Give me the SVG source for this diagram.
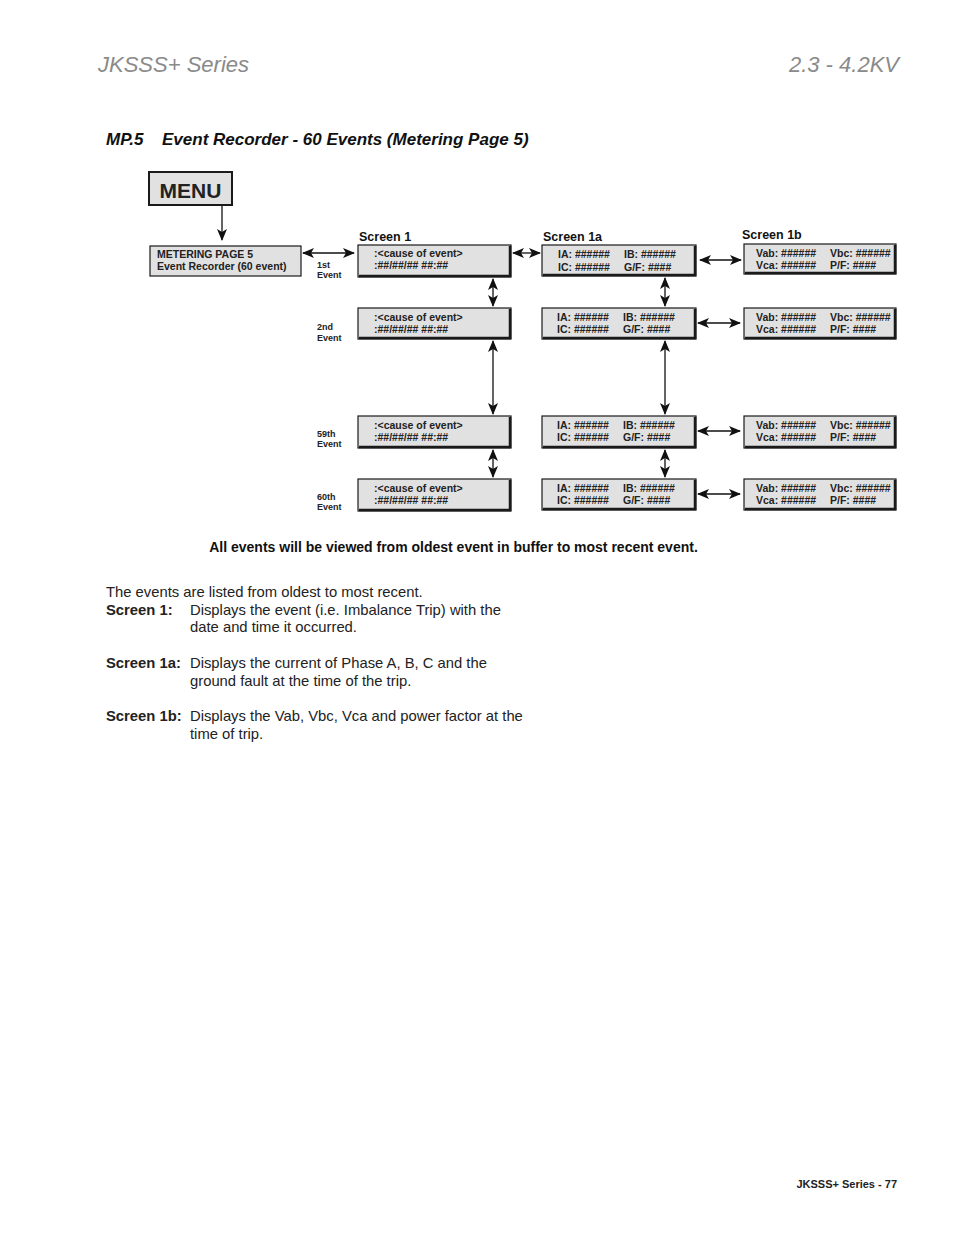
<svg xmlns="http://www.w3.org/2000/svg" width="954" height="1235" viewBox="0 0 954 1235">
<style>
.hdr{font-family:"Liberation Sans",Arial,sans-serif;font-style:italic;font-size:22px;fill:#8a8a8a}
.ttl{font-family:"Liberation Sans",Arial,sans-serif;font-style:italic;font-weight:bold;font-size:17px;fill:#111}
.box{fill:#e1e1e1;stroke:#1a1a1a;stroke-width:1.2}
.sh{stroke:#1a1a1a;stroke-width:2.5;fill:none}
.bt{font-family:"Liberation Sans",Arial,sans-serif;font-weight:bold;font-size:10.5px;fill:#222}
.lbl{font-family:"Liberation Sans",Arial,sans-serif;font-weight:bold;font-size:12.5px;fill:#111}
.ev{font-family:"Liberation Sans",Arial,sans-serif;font-weight:bold;font-size:9px;fill:#222}
.con{stroke:#111;stroke-width:1.3;fill:none}
.body{font-family:"Liberation Sans",Arial,sans-serif;font-size:14.8px;fill:#222}
.bb{font-weight:bold}
</style>
<defs>
<marker id="ah" viewBox="0 0 12 10" refX="11" refY="5" markerWidth="12" markerHeight="10" markerUnits="userSpaceOnUse" orient="auto-start-reverse">
<path d="M0,0 L12,5 L0,10 L3,5 z" fill="#111"/>
</marker>
</defs>
<rect width="954" height="1235" fill="#fff"/>
<text class="hdr" x="98" y="72">JKSSS+ Series</text>
<text class="hdr" x="899" y="72" text-anchor="end">2.3 - 4.2KV</text>
<text class="ttl" x="106" y="145">MP.5<tspan x="162">Event Recorder - 60 Events (Metering Page 5)</tspan></text>

<g id="menu">
<rect x="149" y="172" width="83" height="33" fill="#e1e1e1" stroke="#1a1a1a" stroke-width="2"/>
<text x="190.5" y="198" text-anchor="middle" font-family="Liberation Sans,Arial,sans-serif" font-weight="bold" font-size="21" fill="#222">MENU</text>
</g>

<g id="metering">
<rect class="box" x="150" y="246" width="151" height="30"/>
<text class="bt" x="157" y="258">METERING PAGE 5</text>
<text class="bt" x="157" y="270">Event Recorder (60 event)</text>
</g>

<text class="lbl" x="359" y="241">Screen 1</text>
<text class="lbl" x="543" y="241">Screen 1a</text>
<text class="lbl" x="742" y="239">Screen 1b</text>

<g id="ev1-label"><text class="ev" x="317" y="268">1st</text><text class="ev" x="317" y="278">Event</text></g>
<g id="ev2-label"><text class="ev" x="317" y="330">2nd</text><text class="ev" x="317" y="341">Event</text></g>
<g id="ev59-label"><text class="ev" x="317" y="437">59th</text><text class="ev" x="317" y="447">Event</text></g>
<g id="ev60-label"><text class="ev" x="317" y="500">60th</text><text class="ev" x="317" y="510">Event</text></g>

<g id="s1-1"><rect class="box" x="358" y="245" width="153" height="32"/><path class="sh" d="M510,246 V276 H359"/>
<text class="bt" x="374" y="257">:&lt;cause of event&gt;</text><text class="bt" x="374" y="269">:##/##/## ##:##</text></g>
<g id="s1-2"><rect class="box" x="358" y="308" width="153" height="31"/><path class="sh" d="M510,309 V338 H359"/>
<text class="bt" x="374" y="321">:&lt;cause of event&gt;</text><text class="bt" x="374" y="333">:##/##/## ##:##</text></g>
<g id="s1-59"><rect class="box" x="358" y="416" width="153" height="32"/><path class="sh" d="M510,417 V447 H359"/>
<text class="bt" x="374" y="429">:&lt;cause of event&gt;</text><text class="bt" x="374" y="441">:##/##/## ##:##</text></g>
<g id="s1-60"><rect class="box" x="358" y="479" width="153" height="32"/><path class="sh" d="M510,480 V510 H359"/>
<text class="bt" x="374" y="492">:&lt;cause of event&gt;</text><text class="bt" x="374" y="504">:##/##/## ##:##</text></g>

<g id="s1a-1"><rect class="box" x="542" y="245" width="154" height="31"/><path class="sh" d="M695,246 V275 H543"/>
<text class="bt" x="558" y="258">IA: ######</text><text class="bt" x="624" y="258">IB: ######</text>
<text class="bt" x="558" y="271">IC: ######</text><text class="bt" x="624" y="271">G/F: ####</text></g>
<g id="s1a-2"><rect class="box" x="542" y="308" width="154" height="31"/><path class="sh" d="M695,309 V338 H543"/>
<text class="bt" x="557" y="321">IA: ######</text><text class="bt" x="623" y="321">IB: ######</text>
<text class="bt" x="557" y="333">IC: ######</text><text class="bt" x="623" y="333">G/F: ####</text></g>
<g id="s1a-59"><rect class="box" x="542" y="416" width="154" height="32"/><path class="sh" d="M695,417 V447 H543"/>
<text class="bt" x="557" y="429">IA: ######</text><text class="bt" x="623" y="429">IB: ######</text>
<text class="bt" x="557" y="441">IC: ######</text><text class="bt" x="623" y="441">G/F: ####</text></g>
<g id="s1a-60"><rect class="box" x="542" y="479" width="154" height="31"/><path class="sh" d="M695,480 V509 H543"/>
<text class="bt" x="557" y="492">IA: ######</text><text class="bt" x="623" y="492">IB: ######</text>
<text class="bt" x="557" y="504">IC: ######</text><text class="bt" x="623" y="504">G/F: ####</text></g>

<g id="s1b-1"><rect class="box" x="744" y="244" width="152" height="30"/><path class="sh" d="M895,245 V273 H745"/>
<text class="bt" x="756" y="257">Vab: ######</text><text class="bt" x="830" y="257">Vbc: ######</text>
<text class="bt" x="756" y="269">Vca: ######</text><text class="bt" x="830" y="269">P/F: ####</text></g>
<g id="s1b-2"><rect class="box" x="744" y="308" width="152" height="31"/><path class="sh" d="M895,309 V338 H745"/>
<text class="bt" x="756" y="321">Vab: ######</text><text class="bt" x="830" y="321">Vbc: ######</text>
<text class="bt" x="756" y="333">Vca: ######</text><text class="bt" x="830" y="333">P/F: ####</text></g>
<g id="s1b-59"><rect class="box" x="744" y="416" width="152" height="32"/><path class="sh" d="M895,417 V447 H745"/>
<text class="bt" x="756" y="429">Vab: ######</text><text class="bt" x="830" y="429">Vbc: ######</text>
<text class="bt" x="756" y="441">Vca: ######</text><text class="bt" x="830" y="441">P/F: ####</text></g>
<g id="s1b-60"><rect class="box" x="744" y="479" width="152" height="31"/><path class="sh" d="M895,480 V509 H745"/>
<text class="bt" x="756" y="492">Vab: ######</text><text class="bt" x="830" y="492">Vbc: ######</text>
<text class="bt" x="756" y="504">Vca: ######</text><text class="bt" x="830" y="504">P/F: ####</text></g>

<g id="connectors">
<line class="con" x1="222" y1="206" x2="222" y2="240" marker-end="url(#ah)"/>
<line class="con" x1="303" y1="253" x2="354" y2="253" marker-start="url(#ah)" marker-end="url(#ah)"/>
<line class="con" x1="513" y1="253" x2="540" y2="253" marker-start="url(#ah)" marker-end="url(#ah)"/>
<line class="con" x1="700" y1="260" x2="741" y2="260" marker-start="url(#ah)" marker-end="url(#ah)"/>
<line class="con" x1="698" y1="323" x2="740" y2="323" marker-start="url(#ah)" marker-end="url(#ah)"/>
<line class="con" x1="698" y1="431" x2="740" y2="431" marker-start="url(#ah)" marker-end="url(#ah)"/>
<line class="con" x1="698" y1="494" x2="740" y2="494" marker-start="url(#ah)" marker-end="url(#ah)"/>
<line class="con" x1="493" y1="279" x2="493" y2="306" marker-start="url(#ah)" marker-end="url(#ah)"/>
<line class="con" x1="493" y1="341" x2="493" y2="414" marker-start="url(#ah)" marker-end="url(#ah)"/>
<line class="con" x1="493" y1="450" x2="493" y2="477" marker-start="url(#ah)" marker-end="url(#ah)"/>
<line class="con" x1="665" y1="278" x2="665" y2="306" marker-start="url(#ah)" marker-end="url(#ah)"/>
<line class="con" x1="665" y1="341" x2="665" y2="414" marker-start="url(#ah)" marker-end="url(#ah)"/>
<line class="con" x1="665" y1="450" x2="665" y2="477" marker-start="url(#ah)" marker-end="url(#ah)"/>
</g>

<text x="453.5" y="552" text-anchor="middle" font-family="Liberation Sans,Arial,sans-serif" font-weight="bold" font-size="14" fill="#111">All events will be viewed from oldest event in buffer to most recent event.</text>

<text class="body" x="106" y="597">The events are listed from oldest to most recent.</text>
<text class="body bb" x="106" y="615">Screen 1:</text>
<text class="body" x="190" y="615">Displays the event (i.e. Imbalance Trip) with the</text>
<text class="body" x="190" y="632">date and time it occurred.</text>
<text class="body bb" x="106" y="668">Screen 1a:</text>
<text class="body" x="190" y="668">Displays the current of Phase A, B, C and the</text>
<text class="body" x="190" y="686">ground fault at the time of the trip.</text>
<text class="body bb" x="106" y="721">Screen 1b:</text>
<text class="body" x="190" y="721">Displays the Vab, Vbc, Vca and power factor at the</text>
<text class="body" x="190" y="739">time of trip.</text>

<text x="897" y="1188" text-anchor="end" font-family="Liberation Sans,Arial,sans-serif" font-weight="bold" font-size="11" fill="#222">JKSSS+ Series - 77</text>
</svg>
